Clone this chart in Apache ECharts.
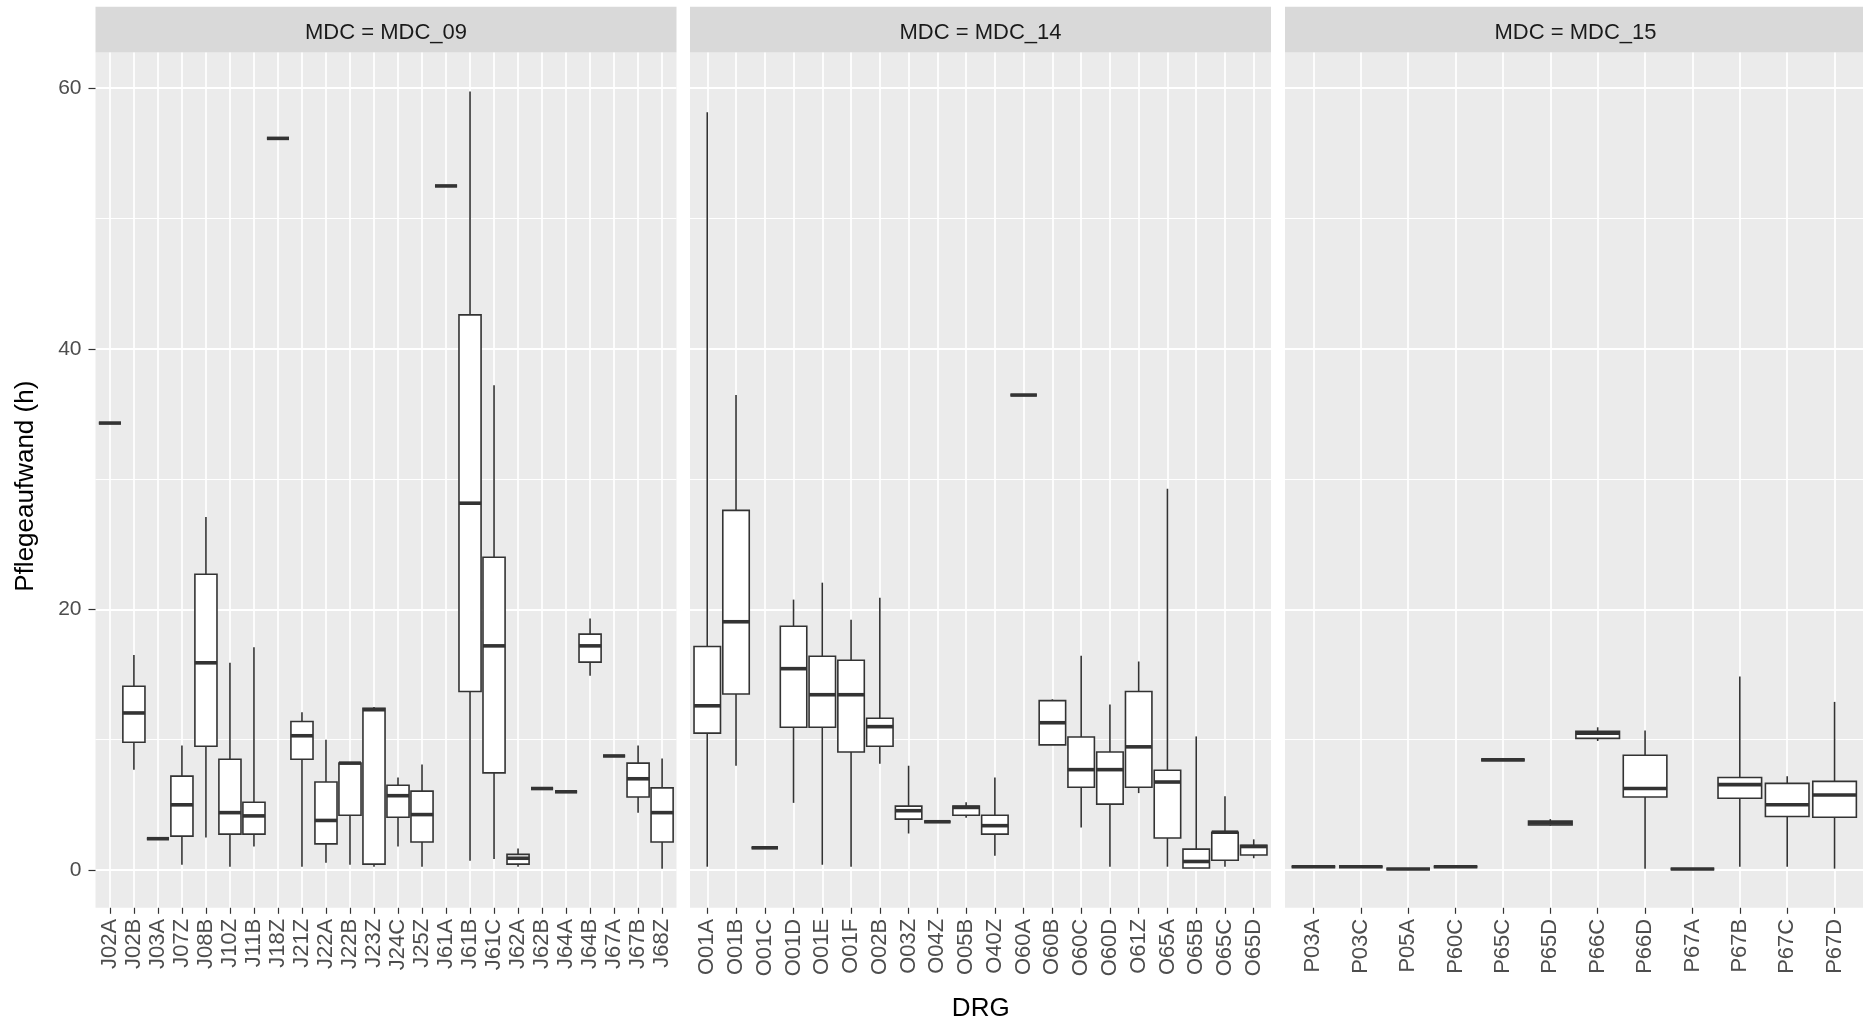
<!DOCTYPE html>
<html>
<head>
<meta charset="utf-8">
<script src="https://cdn.jsdelivr.net/npm/echarts@6/dist/echarts.min.js"></script>
<style>html,body{margin:0;padding:0;background:#fff}#c{width:1863px;height:1024px}</style>
</head>
<body>
<div id="c"></div>
<script>
// ---- data: [min, Q1, median, Q3, max] per DRG ----
const drg09 = ['J02A','J02B','J03A','J07Z','J08B','J10Z','J11B','J18Z','J21Z','J22A','J22B','J23Z','J24C','J25Z','J61A','J61B','J61C','J62A','J62B','J64A','J64B','J67A','J67B','J68Z'];
const box09 = [
  [34.3,34.3,34.3,34.3,34.3],
  [7.7,9.8,12.05,14.1,16.5],
  [2.4,2.4,2.4,2.4,2.4],
  [0.4,2.6,5.0,7.2,9.55],
  [2.5,9.5,15.9,22.7,27.1],
  [0.25,2.75,4.4,8.5,15.9],
  [1.8,2.75,4.15,5.2,17.1],
  [56.15,56.15,56.15,56.15,56.15],
  [0.25,8.5,10.3,11.4,12.1],
  [0.55,2.0,3.8,6.75,10.0],
  [0.4,4.2,8.2,8.2,8.2],
  [0.25,0.45,12.3,12.4,12.5],
  [1.8,4.05,5.7,6.5,7.1],
  [0.25,2.15,4.25,6.05,8.1],
  [52.5,52.5,52.5,52.5,52.5],
  [0.7,13.7,28.15,42.6,59.75],
  [0.85,7.45,17.2,24.0,37.2],
  [0.25,0.45,0.9,1.2,1.65],
  [6.25,6.25,6.25,6.25,6.25],
  [6.0,6.0,6.0,6.0,6.0],
  [14.9,15.95,17.2,18.1,19.3],
  [8.75,8.75,8.75,8.75,8.75],
  [4.4,5.6,7.0,8.2,9.55],
  [0.1,2.15,4.4,6.3,8.55]
];
const drg14 = ['O01A','O01B','O01C','O01D','O01E','O01F','O02B','O03Z','O04Z','O05B','O40Z','O60A','O60B','O60C','O60D','O61Z','O65A','O65B','O65C','O65D'];
const box14 = [
  [0.25,10.5,12.6,17.15,58.15],
  [8.0,13.5,19.05,27.6,36.45],
  [1.7,1.7,1.7,1.7,1.7],
  [5.15,10.95,15.45,18.7,20.75],
  [0.4,10.95,13.45,16.4,22.05],
  [0.25,9.05,13.45,16.1,19.2],
  [8.15,9.5,11.0,11.65,20.9],
  [2.8,3.9,4.55,4.9,8.0],
  [3.7,3.7,3.7,3.7,3.7],
  [4.0,4.2,4.8,4.9,5.2],
  [1.1,2.75,3.4,4.2,7.1],
  [36.45,36.45,36.45,36.45,36.45],
  [9.6,9.6,11.3,13.0,13.1],
  [3.25,6.35,7.7,10.2,16.45],
  [0.25,5.05,7.7,9.05,12.7],
  [5.9,6.35,9.45,13.7,16.0],
  [0.25,2.45,6.75,7.65,29.25],
  [0.15,0.15,0.65,1.6,10.25],
  [0.25,0.75,2.9,2.9,5.65],
  [0.9,1.15,1.8,1.9,2.35]
];
const drg15 = ['P03A','P03C','P05A','P60C','P65C','P65D','P66C','P66D','P67A','P67B','P67C','P67D'];
const box15 = [
  [0.25,0.25,0.25,0.25,0.25],
  [0.25,0.25,0.25,0.25,0.25],
  [0.08,0.08,0.08,0.08,0.08],
  [0.25,0.25,0.25,0.25,0.25],
  [8.45,8.45,8.45,8.45,8.45],
  [3.4,3.45,3.6,3.75,3.9],
  [9.9,10.1,10.5,10.65,10.95],
  [0.1,5.6,6.25,8.8,10.7],
  [0.08,0.08,0.08,0.08,0.08],
  [0.25,5.5,6.55,7.1,14.85],
  [0.25,4.1,5.0,6.65,7.2],
  [0.1,4.05,5.75,6.8,12.9]
];
const panelLabels = ['MDC = MDC_09','MDC = MDC_14','MDC = MDC_15'];
const yMajorTicks = [0,20,40,60];
const yMinorTicks = [10,30,50];
const xTitle = 'DRG';
const yTitle = 'Pflegeaufwand (h)';

// ---- layout ----
const FONT = '"Liberation Sans", Arial, sans-serif';
const panelLeft = [95.5, 690, 1285];
const panelW = 581;
const panelTop = 52.6;
const panelBottom = 907.8;
const stripTop = 6.7;

const cats = [drg09, drg14, drg15];
const stats = [box09, box14, box15];

let all = [];
stats.forEach(s => s.forEach(r => all.push(...r)));
const dMin = Math.min(...all), dMax = Math.max(...all);
const pad = 0.05 * (dMax - dMin);
const yMin = dMin - pad, yMax = dMax + pad;

function renderBox(params, api) {
  const x = api.value(0);
  const lo = api.coord([x, api.value(1)]);
  const q1 = api.coord([x, api.value(2)]);
  const md = api.coord([x, api.value(3)]);
  const q3 = api.coord([x, api.value(4)]);
  const hi = api.coord([x, api.value(5)]);
  const hw = api.size([1, 0])[0] * 0.46;
  const st = {stroke: '#333333', lineWidth: 1.6, fill: null};
  return {type: 'group', children: [
    {type: 'line', shape: {x1: hi[0], y1: hi[1], x2: q3[0], y2: q3[1]}, style: st},
    {type: 'line', shape: {x1: q1[0], y1: q1[1], x2: lo[0], y2: lo[1]}, style: st},
    {type: 'rect', shape: {x: q3[0] - hw, y: q3[1], width: 2 * hw, height: q1[1] - q3[1]},
      style: {fill: '#ffffff', stroke: '#333333', lineWidth: 1.6}},
    {type: 'line', shape: {x1: md[0] - hw, y1: md[1], x2: md[0] + hw, y2: md[1]},
      style: {stroke: '#333333', lineWidth: 3.6}}
  ]};
}

const grid = [], xAxis = [], yAxis = [], series = [], graphic = [];
cats.forEach((c, i) => {
  const idx = c.map((_, j) => j);
  grid.push({left: panelLeft[i], top: panelTop, width: panelW, height: panelBottom - panelTop,
    show: true, backgroundColor: '#EBEBEB', borderWidth: 0, containLabel: false});
  xAxis.push({type: 'value', gridIndex: i, min: -0.6, max: c.length - 0.4, position: 'bottom',
    axisLine: {show: false, onZero: false},
    axisTick: {show: true, length: 6, customValues: idx, lineStyle: {color: '#333333', width: 1.2}},
    axisLabel: {show: true, customValues: idx, rotate: 90, margin: 11, fontSize: 22,
      color: '#4D4D4D', fontFamily: FONT, formatter: v => c[Math.round(v)]},
    splitLine: {show: true, lineStyle: {color: '#ffffff', width: 1.7}}
  });
  yAxis.push({type: 'value', gridIndex: i, min: yMin, max: yMax, position: 'left',
    axisLine: {show: false, onZero: false},
    axisTick: {show: i === 0, length: 7, customValues: yMajorTicks, lineStyle: {color: '#333333', width: 1.2}},
    axisLabel: {show: i === 0, customValues: yMajorTicks, margin: 14, fontSize: 21,
      color: '#4D4D4D', fontFamily: FONT},
    splitLine: {show: true, lineStyle: {color: '#ffffff', width: 2}}
  });
  yAxis.push({type: 'value', gridIndex: i, min: yMin, max: yMax, position: 'left',
    axisLine: {show: false, onZero: false},
    axisTick: {show: false, customValues: yMinorTicks},
    axisLabel: {show: false, customValues: yMinorTicks},
    splitLine: {show: true, lineStyle: {color: '#ffffff', width: 1.1}}
  });
  series.push({type: 'custom', xAxisIndex: i, yAxisIndex: 2 * i,
    data: stats[i].map((s, j) => [j].concat(s)),
    encode: {x: 0, y: [1, 2, 3, 4, 5]},
    renderItem: renderBox, z: 5, silent: true, animation: false});
  graphic.push({type: 'rect', shape: {x: panelLeft[i], y: stripTop, width: panelW, height: panelTop - stripTop},
    style: {fill: '#D9D9D9'}, silent: true});
  graphic.push({type: 'text', x: panelLeft[i] + panelW / 2, y: (stripTop + panelTop) / 2 + 3,
    style: {text: panelLabels[i], fontSize: 22, fill: '#1A1A1A', fontFamily: FONT,
      align: 'center', verticalAlign: 'middle'}, silent: true});
});
graphic.push({type: 'text', x: (panelLeft[0] + panelLeft[2] + panelW) / 2, y: 1009,
  style: {text: xTitle, fontSize: 26, fill: '#000000', fontFamily: FONT, align: 'center', verticalAlign: 'middle'}});
graphic.push({type: 'text', x: 26, y: (panelTop + panelBottom) / 2 + 6, rotation: Math.PI / 2,
  style: {text: yTitle, fontSize: 26, fill: '#000000', fontFamily: FONT, align: 'center', verticalAlign: 'middle'}});

const chart = echarts.init(document.getElementById('c'), null, {renderer: 'canvas'});
chart.setOption({
  animation: false,
  backgroundColor: '#ffffff',
  grid, xAxis, yAxis, series, graphic
});
</script>
</body>
</html>
